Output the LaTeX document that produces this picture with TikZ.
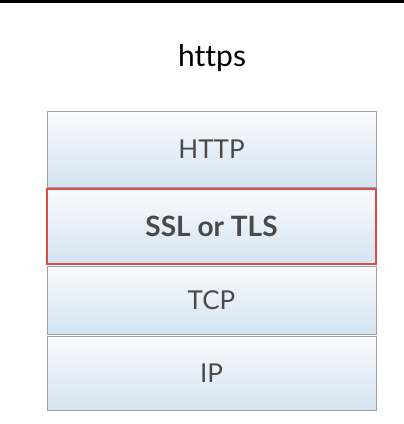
\documentclass[tikz,border=0pt]{standalone}
\usepackage{fontspec}
\setmainfont[Ligatures=NoCommon]{Lato}
\begin{document}
\begin{tikzpicture}[x=1pt,y=-1pt,
  layer/.style={draw=gray!75, line width=0.9pt, top color=blue!2!white, bottom color=layerblue,
    minimum width=329pt, inner sep=0pt, font=\fontsize{26}{30}\selectfont, text=textgray},
  secure/.style={layer, draw=securered, line width=1.3pt, font=\bfseries\fontsize{28}{32}\selectfont}]
\definecolor{layerblue}{HTML}{D3E4F1}
\definecolor{textgray}{HTML}{4A4A4A}
\definecolor{securered}{HTML}{E04A45}
\useasboundingbox (0,0) rectangle (404,424);
\fill[black] (0,0) rectangle (404,3);
% title, with the t-t pair kept apart
\node (title) at (212,58) {\fontsize{30}{34}\selectfont ht\kern0pt tps};
\node[layer, minimum height=76pt] (http) at (211.5,149.5) {HTTP};
\node[layer, minimum height=68pt] (tcp) at (211.5,300) {TCP};
\node[layer, minimum height=74pt] (ip) at (211.5,373) {IP};
\node[secure, minimum height=75pt] (ssl) at (211.5,226.5) {SSL or TLS};
\end{tikzpicture}
\end{document}
